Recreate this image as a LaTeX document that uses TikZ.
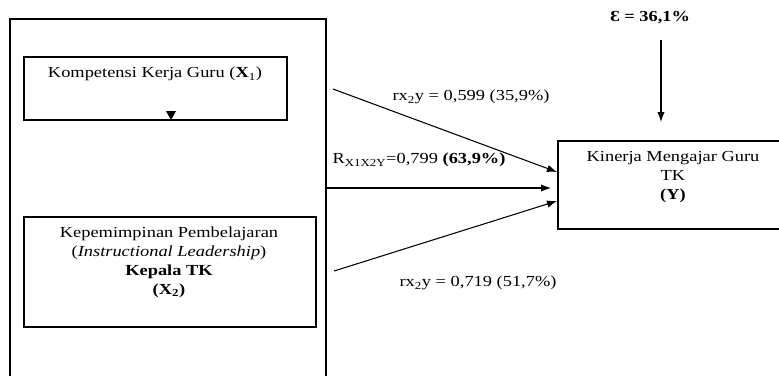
\documentclass[tikz,border=0pt]{standalone}
\usepackage{fontspec}
\setmainfont[FakeStretch=1.2]{Liberation Serif}
\usepackage{tikz}
\usetikzlibrary{arrows.meta}

\begin{document}
\begin{tikzpicture}[x=0.75pt, y=-0.75pt, font=\fontsize{11.5}{14.2}\selectfont,
    kotak/.style={line width=0.8pt},
    panah/.style={line width=0.8pt, -{Latex[length=7.5pt, width=5.5pt]}},
    teks/.style={align=center, inner sep=0pt}]
  \useasboundingbox (0,0) rectangle (779,376);

  % outer frame, open at the bottom
  \draw[kotak] (10,376) -- (10,19) -- (326,19) -- (326,376);

  \coordinate (x1-nw) at (24,57);
  \coordinate (x1-se) at (287,120);
  \coordinate (x2-nw) at (24,217);
  \coordinate (x2-se) at (316,327);
  \coordinate (y-nw) at (558,141);
  \coordinate (y-sw) at (558,229);

  \draw[kotak] (x1-nw) rectangle (x1-se);
  \node[teks] (x1) at (155,74) {Kompetensi Kerja Guru (\textbf{X}\textsubscript{1})};
  \fill (166,111) -- (176,111) -- (171,120) -- cycle;

  \draw[kotak] (x2-nw) rectangle (x2-se);
  \node[teks] (x2) at (169,262) {Kepemimpinan Pembelajaran\\
    (\textit{Instructional Leadership})\\
    \textbf{Kepala TK}\\
    \textbf{(X\textsubscript{2})}};

  \draw[kotak] (779,141) -- (y-nw) -- (y-sw) -- (779,229);
  \node[teks] (kinerja) at (673,177) {Kinerja Mengajar Guru\\ TK\\ \textbf{(Y)}};

  \node[teks] (epsilon) at (650,18) {\textbf{Ɛ = 36,1\%}};
  \coordinate (eps-end) at (661,122);
  \draw[panah] (661,40) -- (eps-end);

  \coordinate (src-1) at (333,89);
  \coordinate (src-12) at (326,188);
  \coordinate (src-2) at (334,271);
  \coordinate (dst-1) at (557,172);
  \coordinate (dst-12) at (551,188);
  \coordinate (dst-2) at (557,201);

  \draw[panah] (src-1) -- (dst-1);
  \draw[panah] (src-12) -- (dst-12);
  \draw[panah] (src-2) -- (dst-2);

  \node[teks] (r1) at (471,97) {rx\textsubscript{2}y = 0,599 (35,9\%)};
  \node[teks] (r12) at (419,160) {R\textsubscript{X1X2Y}=0,799 \textbf{(63,9\%)}};
  \node[teks] (r2) at (478,283) {rx\textsubscript{2}y = 0,719 (51,7\%)};
\end{tikzpicture}
\end{document}
